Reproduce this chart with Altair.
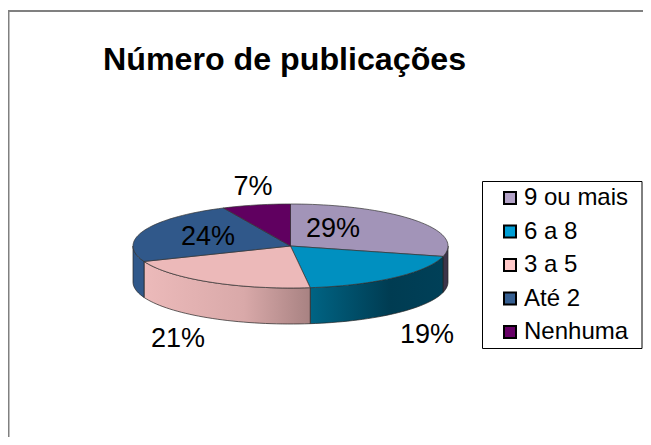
import math
import altair as alt
import pandas as pd

categories = ["9 ou mais", "6 a 8", "3 a 5", "Até 2", "Nenhuma"]
shares = [29, 19, 21, 24, 7]
labels = ["29%", "19%", "21%", "24%", "7%"]
top_colors = ["#a294b8", "#0090c0", "#ecb9b9", "#30588a", "#600060"]
legend_colors = ["#b3a2c7", "#009ed5", "#ffc8c8", "#365f91", "#660066"]
label_x = [333, 427, 178, 208, 253]
label_y = [229, 335, 339, 237, 187]
title_text = "Número de publicações"

# ellipse geometry of the tilted pie
CX, CY, RX, RY, DEPTH = 290.5, 246, 157.5, 42, 36
FONT = "Liberation Sans"


def rim(deg, drop=0):
    r = math.radians(deg)
    return CX + RX * math.sin(r), CY - RY * math.cos(r) + drop


def arc_degrees(a0, a1):
    n = max(2, int(abs(a1 - a0) / 2) + 1)
    return [a0 + (a1 - a0) * i / (n - 1) for i in range(n)]


tops, sides = [], []
cum = 0
for i, (cat, s) in enumerate(zip(categories, shares)):
    a0, a1 = cum * 3.6, (cum + s) * 3.6
    cum += s
    pts = [(CX, CY)] + [rim(a) for a in arc_degrees(a0, a1)] + [(CX, CY)]
    for k, (x, y) in enumerate(pts):
        tops.append(dict(slice=cat, k=k, x=x, y=y, fill=top_colors[i]))
    f0, f1 = max(a0, 90), min(a1, 270)
    if f1 > f0:
        d = arc_degrees(f0, f1)
        pts = [rim(a) for a in d] + [rim(a, DEPTH) for a in reversed(d)]
        pts.append(pts[0])
        for k, (x, y) in enumerate(pts):
            sides.append(dict(slice=cat, k=k, x=x, y=y))

tops = pd.DataFrame(tops)
sides = pd.DataFrame(sides)

xs = alt.Scale(domain=[8, 643], range=[0, 635], nice=False, zero=False)
ys = alt.Scale(domain=[8, 437], range=[0, 429], nice=False, zero=False)
X = alt.X("x:Q", scale=xs, axis=None)
Y = alt.Y("y:Q", scale=ys, axis=None)


def grad(c0, c1, c2=None):
    stops = [alt.GradientStop(color=c0, offset=0)]
    if c2:
        stops += [alt.GradientStop(color=c1, offset=0.6), alt.GradientStop(color=c2, offset=1)]
    else:
        stops += [alt.GradientStop(color=c1, offset=1)]
    return alt.Gradient(gradient="linear", stops=stops, x1=0, x2=1, y1=0, y2=0)


side_fills = {
    "9 ou mais": "#3c344a",
    "6 a 8": grad("#006484", "#003c52", "#004058"),
    "3 a 5": grad("#ecbaba", "#d9a9a9", "#a88282"),
    "Até 2": "#30588a",
}
side_layers = [
    alt.Chart(sides[sides.slice == c])
    .mark_line(fill=f, stroke="#222222", strokeWidth=0.7, interpolate="linear")
    .encode(x=X, y=Y, order="k:Q")
    for c, f in side_fills.items()
]

top_layer = (
    alt.Chart(tops)
    .mark_line(stroke="#333333", strokeWidth=0.7, strokeJoin="round")
    .encode(x=X, y=Y, order="k:Q", detail="slice:N", fill=alt.Fill("fill:N", scale=None))
)

text_df = pd.DataFrame(dict(t=labels, x=label_x, y=label_y))
text_layer = (
    alt.Chart(text_df)
    .mark_text(font=FONT, fontSize=27, color="#000000", baseline="middle", align="center")
    .encode(x=X, y=Y, text="t:N")
)

title_layer = (
    alt.Chart(pd.DataFrame(dict(t=[title_text], x=[103], y=[70])))
    .mark_text(font=FONT, fontSize=32.2, fontWeight="bold", color="#000000", align="left", baseline="alphabetic")
    .encode(x=X, y=Y, text="t:N")
)

frame_left = (
    alt.Chart(pd.DataFrame(dict(x=[8.5], y=[11], y2=[437])))
    .mark_rule(color="#808080", strokeWidth=2)
    .encode(x=X, y=Y, y2="y2:Q")
)
frame_top = (
    alt.Chart(pd.DataFrame(dict(x=[8], x2=[643], y=[11])))
    .mark_rule(color="#808080", strokeWidth=2)
    .encode(x=X, x2="x2:Q", y=Y)
)
legend_box = (
    alt.Chart(pd.DataFrame(dict(x=[482.5], x2=[642], y=[181.5], y2=[348.5])))
    .mark_rect(fill="#ffffff", stroke="#000000", strokeWidth=1)
    .encode(x=X, x2="x2:Q", y=Y, y2="y2:Q")
)

legend_layer = (
    alt.Chart(pd.DataFrame(dict(cat=categories, x=[CX] * 5, y=[CY] * 5)))
    .mark_point(filled=True, shape="square", size=1, opacity=1)
    .encode(
        x=X,
        y=Y,
        fill=alt.Fill(
            "cat:N",
            sort=categories,
            scale=alt.Scale(domain=categories, range=legend_colors),
            legend=alt.Legend(
                orient="none",
                legendX=490,
                legendY=178,
                title=None,
                symbolType="square",
                symbolSize=144,
                symbolStrokeColor="#000000",
                symbolStrokeWidth=2,
                symbolOpacity=1,
                labelFont=FONT,
                labelFontSize=24,
                labelColor="#000000",
                labelOffset=2,
                labelLimit=200,
                rowPadding=9.5,
                padding=0,
            ),
        ),
    )
)

chart = (
    alt.layer(frame_left, frame_top, legend_box, legend_layer, *side_layers, top_layer, text_layer, title_layer)
    .resolve_scale(fill="independent")
    .properties(width=635, height=429, padding=0, autosize=alt.AutoSizeParams(type="none"), background="#ffffff")
    .configure_view(stroke=None)
)
chart.save("out.html", embed_options={"renderer": "svg", "actions": False})
